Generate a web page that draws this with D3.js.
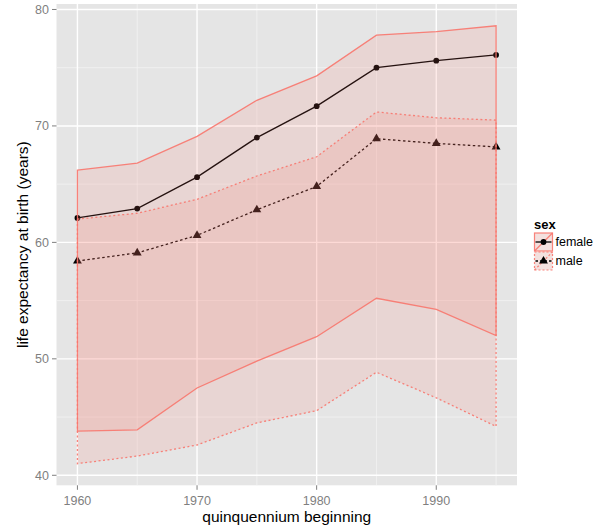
<!DOCTYPE html>
<html><head><meta charset="utf-8">
<script src="https://cdn.jsdelivr.net/npm/d3@7"></script>
<style>body{margin:0;background:#fff}svg{display:block;font-family:"Liberation Sans",Arial,sans-serif}</style>
</head><body><svg id="c" width="606" height="531"></svg>
<script>
const years = [1960,1965,1970,1975,1980,1985,1990,1995];
const femaleMean = [62.1,62.9,65.6,69.0,71.7,75.0,75.6,76.1];
const femaleHigh = [66.2,66.8,69.1,72.2,74.3,77.8,78.1,78.6];
const femaleLow  = [43.8,43.9,47.5,49.8,51.9,55.2,54.25,52.0];
const maleMean = [58.4,59.1,60.6,62.8,64.8,68.9,68.5,68.2];
const maleHigh = [62.0,62.5,63.7,65.7,67.35,71.2,70.7,70.5];
const maleLow  = [41.0,41.65,42.6,44.5,45.55,48.85,46.65,44.2];
const xTicks = [1960,1970,1980,1990];
const xMinor = [1965,1975,1985,1995];
const yTicks = [40,50,60,70,80];
const yMinor = [45,55,65,75];
const sexes = ["female","male"];

const svg = d3.select("#c");
const P = {l:56.5, r:517, t:4, b:485.3};
const x = d3.scaleLinear().domain([1958.25,1996.75]).range([P.l,P.r]);
const y = d3.scaleLinear().domain([39.14,80.47]).range([P.b,P.t]);
const salmon = "#F8766D";
const fillOp = 0.15;

svg.append("rect").attr("x",P.l).attr("y",P.t).attr("width",P.r-P.l).attr("height",P.b-P.t).attr("fill","#E5E5E5");
const g = svg.append("g");
yMinor.forEach(v=>g.append("line").attr("x1",P.l).attr("x2",P.r).attr("y1",y(v)).attr("y2",y(v)).attr("stroke","#F2F2F2").attr("stroke-width",0.8));
xMinor.forEach(v=>g.append("line").attr("y1",P.t).attr("y2",P.b).attr("x1",x(v)).attr("x2",x(v)).attr("stroke","#F2F2F2").attr("stroke-width",0.8));
yTicks.forEach(v=>g.append("line").attr("x1",P.l).attr("x2",P.r).attr("y1",y(v)).attr("y2",y(v)).attr("stroke","#fff").attr("stroke-width",1.4));
xTicks.forEach(v=>g.append("line").attr("y1",P.t).attr("y2",P.b).attr("x1",x(v)).attr("x2",x(v)).attr("stroke","#fff").attr("stroke-width",1.4));

const series = [
  {name:"female", mean:femaleMean, hi:femaleHigh, lo:femaleLow, dash:null, shape:d3.symbolCircle, size:26},
  {name:"male", mean:maleMean, hi:maleHigh, lo:maleLow, dash:"2.5,2.5", shape:d3.symbolTriangle, size:34}
];
const line = d3.line().x((d,i)=>x(years[i])).y(d=>y(d));
// lines and points
series.forEach(s=>{
  svg.append("path").attr("d",line(s.mean)).attr("fill","none").attr("stroke","#000").attr("stroke-width",1.3)
    .attr("stroke-dasharray",s.dash);
  s.mean.forEach((v,i)=>svg.append("path").attr("d",d3.symbol().type(s.shape).size(s.size)())
    .attr("transform",`translate(${x(years[i])},${y(v)})`).attr("fill","#000"));
});
// ribbons
series.forEach(s=>{
  const pts = years.map((yr,i)=>[x(yr),y(s.hi[i])]).concat(years.map((yr,i)=>[x(yr),y(s.lo[i])]).reverse());
  svg.append("path").attr("d","M"+pts.map(p=>p.join(",")).join("L")+"Z")
    .attr("fill",salmon).attr("fill-opacity",fillOp)
    .attr("stroke",salmon).attr("stroke-opacity",0.9).attr("stroke-width",1.3)
    .attr("stroke-dasharray",s.dash ? "2,2.5" : null);
});

// axes
const ax = svg.append("g").attr("font-size",12.5).attr("fill","#7F7F7F");
yTicks.forEach(v=>{
  ax.append("line").attr("x1",P.l-4.5).attr("x2",P.l).attr("y1",y(v)).attr("y2",y(v)).attr("stroke","#7F7F7F").attr("stroke-width",1);
  ax.append("text").attr("x",P.l-7.5).attr("y",y(v)).attr("dy","0.35em").attr("text-anchor","end").text(v);
});
xTicks.forEach(v=>{
  ax.append("line").attr("x1",x(v)).attr("x2",x(v)).attr("y1",P.b).attr("y2",P.b+4.5).attr("stroke","#7F7F7F").attr("stroke-width",1);
  ax.append("text").attr("x",x(v)).attr("y",P.b+15.5).attr("dy","0.35em").attr("text-anchor","middle").text(v);
});
svg.append("text").attr("x",(P.l+P.r)/2).attr("y",517).attr("dy","0.35em").attr("text-anchor","middle")
  .attr("font-size",15.5).attr("fill","#000").text("quinquennium beginning");
svg.append("text").attr("transform",`translate(23,${(P.t+P.b)/2}) rotate(-90)`).attr("dy","0.35em").attr("text-anchor","middle")
  .attr("font-size",15.5).attr("fill","#000").text("life expectancy at birth (years)");

// legend
const lg = svg.append("g");
lg.append("text").attr("x",534).attr("y",224).attr("dy","0.35em").attr("font-weight","bold").attr("font-size",13).text("sex");
series.forEach((s,i)=>{
  const kx=534.5, ky=233+i*19, ks=18;
  const k = lg.append("g");
  k.append("rect").attr("x",kx).attr("y",ky).attr("width",ks).attr("height",ks).attr("fill","#F2F2F2");
  k.append("rect").attr("x",kx).attr("y",ky).attr("width",ks).attr("height",ks).attr("fill",salmon).attr("fill-opacity",fillOp)
    .attr("stroke",salmon).attr("stroke-opacity",0.9).attr("stroke-width",1.2).attr("stroke-dasharray",s.dash?"2,2":null);
  k.append("line").attr("x1",kx).attr("y1",ky+ks).attr("x2",kx+ks).attr("y2",ky).attr("stroke",salmon).attr("stroke-opacity",0.9)
    .attr("stroke-width",1.2).attr("stroke-dasharray",s.dash?"2,2":null);
  k.append("line").attr("x1",kx+1).attr("x2",kx+ks-1).attr("y1",ky+ks/2).attr("y2",ky+ks/2).attr("stroke","#000").attr("stroke-width",1.3)
    .attr("stroke-dasharray",s.dash?"2.5,2":null);
  k.append("path").attr("d",d3.symbol().type(s.shape).size(s.size)()).attr("transform",`translate(${kx+ks/2},${ky+ks/2})`).attr("fill","#000");
  lg.append("text").attr("x",kx+ks+3).attr("y",ky+ks/2).attr("dy","0.35em").attr("font-size",12.5).text(s.name);
});
</script></body></html>
